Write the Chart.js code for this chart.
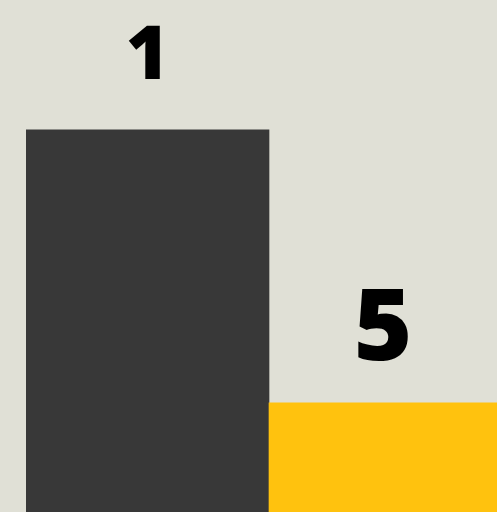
<!DOCTYPE html>
<html>
<head>
<meta charset="utf-8">
<script src="https://cdn.jsdelivr.net/npm/chart.js@4"></script>
<style>
  html, body { margin: 0; padding: 0; background: #e0e0d6; overflow: hidden; }
  #wrap { width: 512px; height: 512px; position: relative; }
</style>
</head>
<body>
<div id="wrap"><canvas id="chart"></canvas></div>
<script>
// ── Data ──
const categories = ['A', 'B'];
const values = [7, 2];
const rankLabels = ['1', '5'];
const barColors = ['#383838', '#ffc20e'];

// label look per bar (font px, gap above bar top)
const labelSizes = [74, 100];
const labelGaps = [51, 43];

const rankLabelPlugin = {
  id: 'rankLabels',
  afterDatasetsDraw(chart) {
    const { ctx } = chart;
    const meta = chart.getDatasetMeta(0);
    const visibleRight = Math.min(chart.width, window.innerWidth);
    ctx.save();
    ctx.fillStyle = '#000';
    ctx.textAlign = 'center';
    ctx.textBaseline = 'alphabetic';
    meta.data.forEach((bar, i) => {
      const { base, width } = bar.getProps(['base', 'width'], true);
      const left = bar.x - width / 2;
      const right = Math.min(bar.x + width / 2, visibleRight);
      ctx.font = `800 ${labelSizes[i]}px "Open Sans", Lato, sans-serif`;
      ctx.fillText(rankLabels[i], (left + right) / 2, bar.y - labelGaps[i]);
    });
    ctx.restore();
  }
};

new Chart(document.getElementById('chart'), {
  type: 'bar',
  data: {
    labels: categories,
    datasets: [{
      data: values,
      backgroundColor: barColors,
      borderWidth: 0,
      barPercentage: 1,
      categoryPercentage: 1,
    }],
  },
  options: {
    responsive: true,
    maintainAspectRatio: false,
    animation: false,
    layout: { padding: { left: 26, right: 0, top: 0, bottom: 0 } },
    plugins: { legend: { display: false }, tooltip: { enabled: false } },
    scales: {
      x: { display: false, offset: true },
      y: { display: false, min: 0, max: 9.38 },
    },
  },
  plugins: [rankLabelPlugin],
});
</script>
</body>
</html>
